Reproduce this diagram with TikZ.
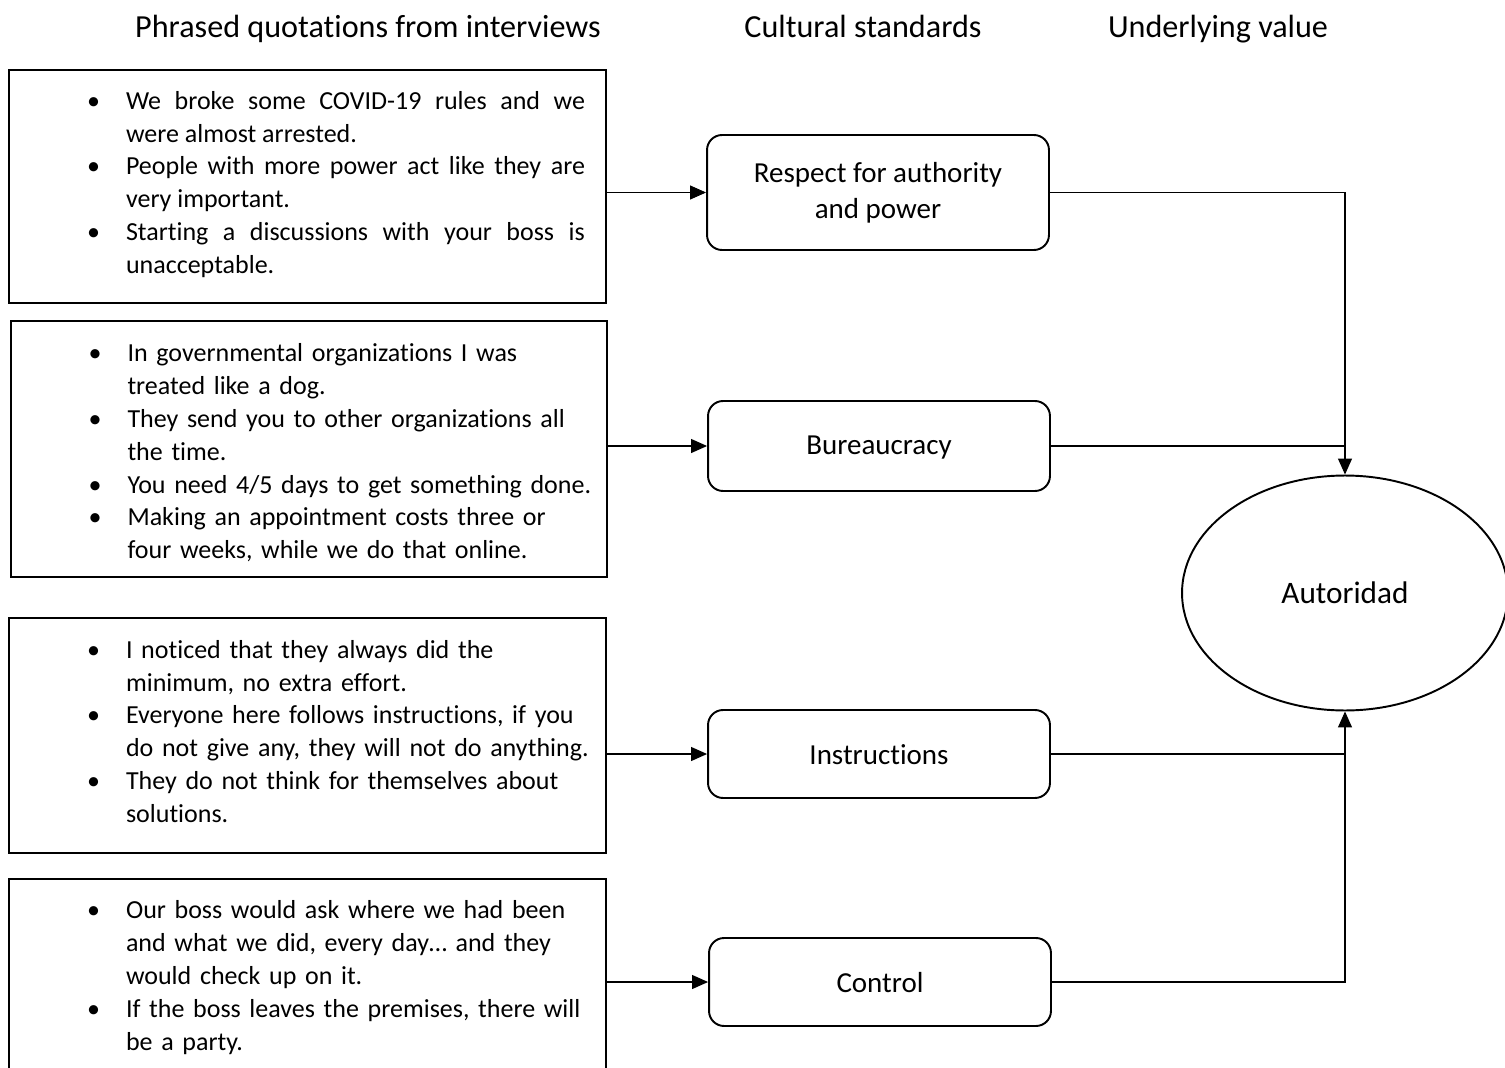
\documentclass[tikz,border=0pt]{standalone}
\usepackage{fontspec}
\setmainfont{Carlito}[Ligatures={NoCommon}]
\usepackage{enumitem}
\usepackage{tikz}
\usetikzlibrary{shapes.geometric, arrows.meta, positioning, calc}

\newcommand{\quotefont}{\fontsize{14.8pt}{18.7pt}\selectfont}
\setlist[itemize]{label=\textbullet, leftmargin=2.07cm, labelsep=0.52cm,
                  itemsep=0pt, topsep=0pt, parsep=0pt, partopsep=0pt}

\tikzset{
    quotebox/.style={draw, line width=1.1pt, rectangle, inner sep=0pt,
                     minimum width=11.94cm, text width=11.4cm, font=\quotefont},
    standardbox/.style={draw, line width=1.1pt, rounded corners=0.3cm,
                        minimum width=6.84cm, align=center,
                        font=\fontsize{16.5pt}{20.4pt}\selectfont},
    onelinebox/.style={standardbox, text height=0.42cm},
    headline/.style={anchor=base, font=\fontsize{18.3pt}{22pt}\selectfont},
    conn/.style={line width=0.6pt, -{Triangle[length=0.32cm, width=0.28cm]}},
    link/.style={line width=0.6pt}
}

\begin{document}
\begin{tikzpicture}[x=0.02cm, y=-0.02cm]
\clip (0,0) rectangle (1505,1068);
\useasboundingbox (0,0) rectangle (1505,1068);

% column titles
\node[headline] (hquotes) at (368,38) {Phrased quotations from interviews};
\node[headline] (hstandards) at (863,38) {Cultural standards};
\node[headline] (hvalue) at (1218,38) {Underlying value};

% quotations
\node[quotebox, align=justify, minimum height=4.66cm] (q1) at (307.5,186.5) {
    \begin{itemize}[rightmargin=0.15cm]
        \item We broke some COVID-19 rules and we\linebreak were almost arrested.
        \item People with more power act like they are\linebreak very important.
        \item Starting a discussions with your boss is\linebreak unacceptable.
    \end{itemize}
    \par\vskip0.38cm\hrule height 0pt
};
\node[quotebox, minimum height=5.12cm, minimum width=11.92cm] (q2) at (309,449) {
    \raggedright
    \begin{itemize}
        \item In governmental organizations I was\newline treated like a dog.
        \item They send you to other organizations all\newline the time.
        \item You need 4/5 days to get something done.
        \item Making an appointment costs three or\newline four weeks, while we do that online.
    \end{itemize}
    \par\vskip0.14cm\hrule height 0pt
};
\node[quotebox, minimum height=4.7cm] (q3) at (307.5,735.5) {
    \raggedright
    \begin{itemize}
        \item I noticed that they always did the\newline minimum, no extra effort.
        \item Everyone here follows instructions, if you\newline do not give any, they will not do anything.
        \item They do not think for themselves about\newline solutions.
    \end{itemize}
    \par\vskip0.46cm\hrule height 0pt
};
\node[quotebox, minimum height=3.84cm] (q4) at (307.5,975) {
    \raggedright
    \begin{itemize}
        \item Our boss would ask where we had been\newline and what we did, every day\dots{} and they\newline would check up on it.
        \item If the boss leaves the premises, there will\newline be a party.
    \end{itemize}
    \par\vskip0.2cm\hrule height 0pt
};

% cultural standards
\node[standardbox, minimum height=2.3cm] (respect) at (878,192.5) {Respect for authority\\and power};
\node[onelinebox, minimum height=1.8cm] (bureau) at (879,446) {Bureaucracy};
\node[onelinebox, minimum height=1.76cm] (instr) at (879,754) {Instructions};
\node[onelinebox, minimum height=1.76cm] (control) at (880,982) {Control};

% underlying value
\node[draw, ellipse, line width=1.1pt, minimum width=6.52cm, minimum height=4.7cm,
      font=\fontsize{17.8pt}{21pt}\selectfont] (autoridad) at (1345,593) {Autoridad};

% connectors
\draw[conn] (q1.east |- respect.west) -- (respect.west);
\draw[conn] (q2.east |- bureau.west) -- (bureau.west);
\draw[conn] (q3.east |- instr.west) -- (instr.west);
\draw[conn] (q4.east |- control.west) -- (control.west);

\draw[conn] (respect.east) -| (autoridad.north);
\draw[link] (bureau.east) -- (bureau.east -| autoridad.north);
\draw[conn] (control.east) -| (autoridad.south);
\draw[link] (instr.east) -- (instr.east -| autoridad.south);
\end{tikzpicture}
\end{document}
